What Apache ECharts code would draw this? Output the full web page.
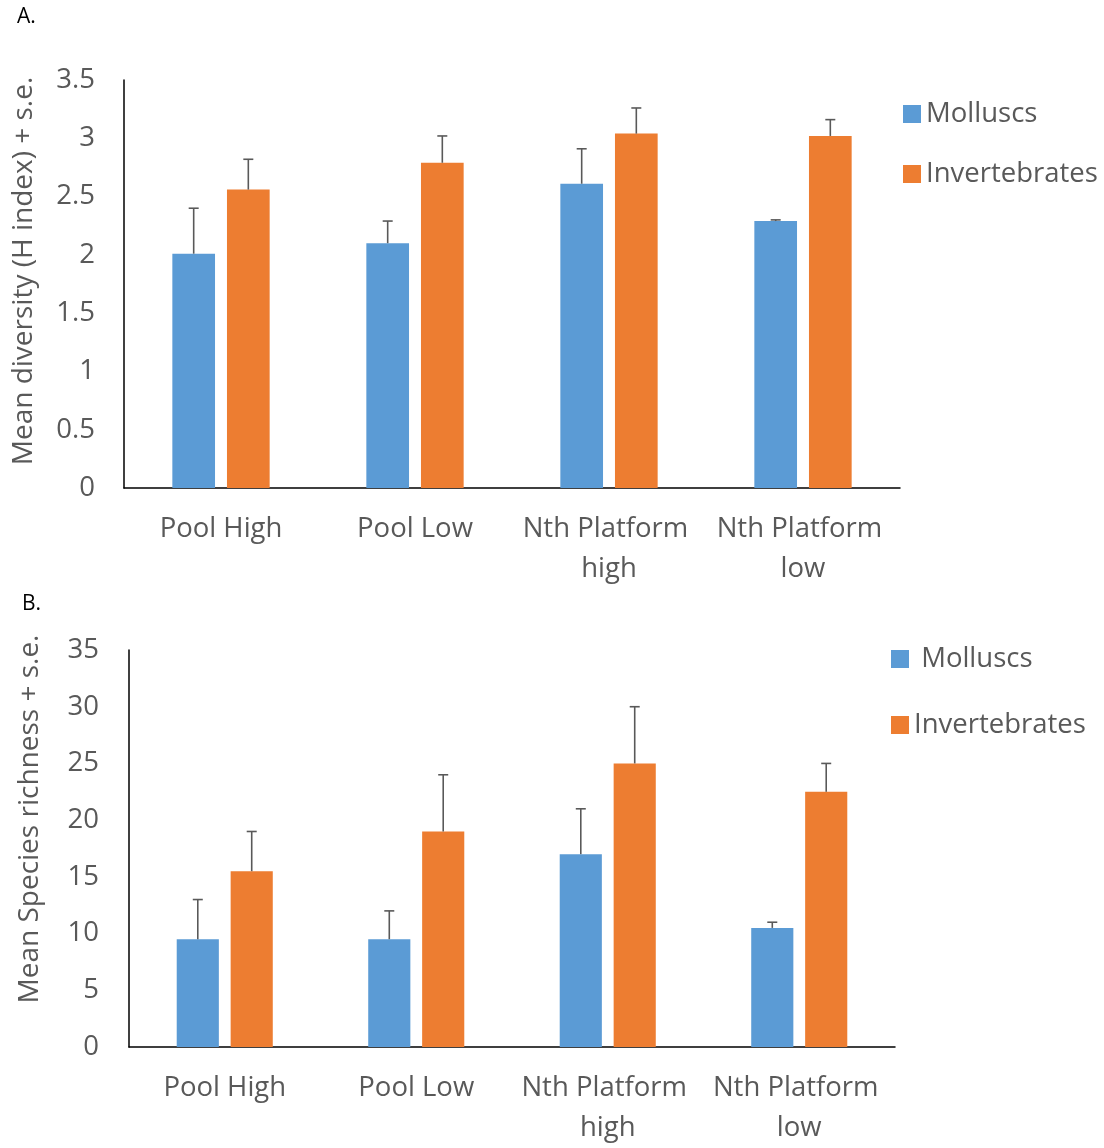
<!DOCTYPE html>
<html>
<head>
<meta charset="utf-8">
<script src="https://cdn.jsdelivr.net/npm/echarts@6/dist/echarts.min.js"></script>
<style>
html,body{margin:0;padding:0;background:#fff;}
#chart{width:1104px;height:1148px;}
</style>
</head>
<body>
<div id="chart"></div>
<script>
const categories = ['Pool High', 'Pool Low', 'Nth Platform high', 'Nth Platform low'];
const seriesNames = ['Molluscs', 'Invertebrates'];

// Panel A: Mean diversity (H index)
const diversityMolluscs = [2.01, 2.10, 2.61, 2.29];
const diversityMolluscsSE = [0.39, 0.19, 0.30, 0.01];
const diversityInvertebrates = [2.56, 2.79, 3.04, 3.02];
const diversityInvertebratesSE = [0.26, 0.23, 0.22, 0.14];
const diversityTicks = {min: 0, max: 3.5, interval: 0.5};

// Panel B: Mean species richness
const richnessMolluscs = [9.5, 9.5, 17, 10.5];
const richnessMolluscsSE = [3.5, 2.5, 4, 0.5];
const richnessInvertebrates = [15.5, 19, 25, 22.5];
const richnessInvertebratesSE = [3.5, 5, 5, 2.5];
const richnessTicks = {min: 0, max: 35, interval: 5};

const BLUE = '#5B9BD5', ORANGE = '#ED7D31', GREY = '#595959';
const FONT = 'Open Sans';
const FS = 27.5;
const BAR_W = 0.22, BAR_GAP = 0.28;

function errSeries(axisIdx, vals, ses, sign) {
  return {
    type: 'custom', name: 'err' + axisIdx + sign,
    xAxisIndex: axisIdx, yAxisIndex: axisIdx, z: 10, silent: true,
    data: vals.map((v, i) => [i, v, ses[i]]),
    renderItem: function (params, api) {
      const x = api.value(0), v = api.value(1), e = api.value(2);
      const base = api.coord([x, v]);
      const top = api.coord([x, v + e]);
      const band = api.size([1, 0])[0];
      const bw = band * BAR_W;
      const cx = base[0] + sign * (bw * (1 + BAR_GAP)) / 2;
      const st = {stroke: GREY, lineWidth: 1.6};
      return {type: 'group', children: [
        {type: 'line', shape: {x1: cx, y1: base[1], x2: cx, y2: top[1]}, style: st},
        {type: 'line', shape: {x1: cx - 5, y1: top[1], x2: cx + 5, y2: top[1]}, style: st}
      ]};
    }
  };
}

function xAx(gi) {
  return {
    type: 'category', gridIndex: gi, data: categories,
    axisLine: {lineStyle: {color: '#000', width: 1.5}},
    axisTick: {show: false},
    axisLabel: {color: GREY, fontFamily: FONT, fontSize: FS, margin: 21, lineHeight: 40,
      interval: 0, width: 190, overflow: 'break'}
  };
}
function yAx(gi, t, margin) {
  return {
    type: 'value', gridIndex: gi, min: t.min, max: t.max, interval: t.interval,
    axisLine: {show: true, lineStyle: {color: '#000', width: 1.5}},
    axisTick: {show: false}, splitLine: {show: false},
    axisLabel: {color: GREY, fontFamily: FONT, fontSize: FS, margin: margin}
  };
}
function barSeries(name, gi, vals, color) {
  return {type: 'bar', name: name, xAxisIndex: gi, yAxisIndex: gi, data: vals,
    barWidth: (BAR_W * 100) + '%', barGap: (BAR_GAP * 100) + '%',
    itemStyle: {color: color}};
}

const chart = echarts.init(document.getElementById('chart'));
chart.setOption({
  animation: false,
  grid: [
    {left: 124, right: 204, top: 80, height: 408},
    {left: 129, right: 209, top: 650, height: 400}
  ],
  xAxis: [xAx(0), xAx(1)],
  yAxis: [yAx(0, diversityTicks, 29), yAx(1, richnessTicks, 30)],
  legend: [
    {data: seriesNames, orient: 'vertical', left: 898, top: 93, itemWidth: 18, itemHeight: 18,
      itemGap: 28, icon: 'rect', itemTextGap: 8,
      textStyle: {color: GREY, fontFamily: FONT, fontSize: FS, lineHeight: 32}},
    {data: seriesNames, orient: 'vertical', left: 886, top: 638, itemWidth: 18, itemHeight: 18,
      itemGap: 34, icon: 'rect', itemTextGap: 8,
      formatter: n => (n === 'Molluscs' ? ' ' + n : n),
      textStyle: {color: GREY, fontFamily: FONT, fontSize: FS, lineHeight: 32}}
  ],
  graphic: [
    {type: 'text', left: 17, top: 7, style: {text: 'A.', fontFamily: FONT, fontSize: 21, fill: '#000'}},
    {type: 'text', left: 22, top: 594, style: {text: 'B.', fontFamily: FONT, fontSize: 21, fill: '#000'}},
    {type: 'text', x: 24, y: 271, rotation: Math.PI / 2,
      style: {text: 'Mean diversity (H index) + s.e.', fontFamily: FONT, fontSize: 28, fill: GREY,
        align: 'center', verticalAlign: 'middle'}},
    {type: 'text', x: 30, y: 819, rotation: Math.PI / 2,
      style: {text: 'Mean Species richness + s.e.', fontFamily: FONT, fontSize: 28, fill: GREY,
        align: 'center', verticalAlign: 'middle'}}
  ],
  series: [
    barSeries('Molluscs', 0, diversityMolluscs, BLUE),
    barSeries('Invertebrates', 0, diversityInvertebrates, ORANGE),
    barSeries('Molluscs', 1, richnessMolluscs, BLUE),
    barSeries('Invertebrates', 1, richnessInvertebrates, ORANGE),
    errSeries(0, diversityMolluscs, diversityMolluscsSE, -1),
    errSeries(0, diversityInvertebrates, diversityInvertebratesSE, 1),
    errSeries(1, richnessMolluscs, richnessMolluscsSE, -1),
    errSeries(1, richnessInvertebrates, richnessInvertebratesSE, 1)
  ]
});
</script>
</body>
</html>
